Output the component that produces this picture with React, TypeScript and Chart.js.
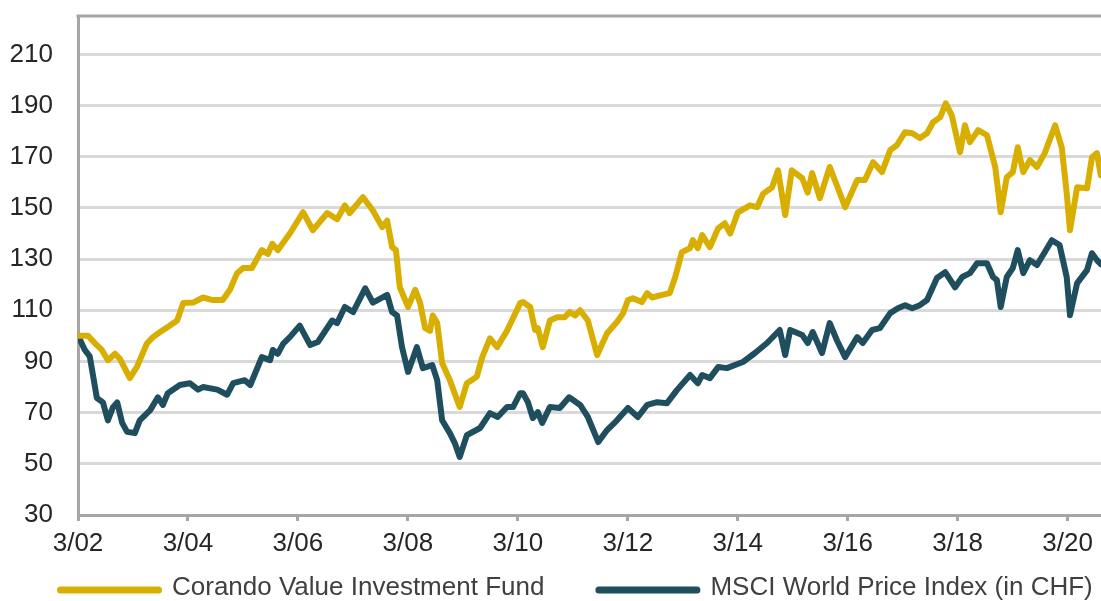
import React, { useEffect, useRef } from "react";
import { Chart, registerables } from "chart.js";

Chart.register(...registerables);

// ---- Data ----
const xTickLabels = ["3/02", "3/04", "3/06", "3/08", "3/10", "3/12", "3/14", "3/16", "3/18", "3/20"];
const yTickValues = [30, 50, 70, 90, 110, 130, 150, 170, 190, 210];

const fundLabel = "Corando Value Investment Fund";
const msciLabel = "MSCI World Price Index (in CHF)";

const fundDates = [
  2002.17, 2002.35, 2002.48, 2002.6, 2002.71, 2002.84, 2002.93, 2003.11, 2003.24, 2003.42,
  2003.53, 2003.66, 2003.8, 2003.97, 2004.08, 2004.26, 2004.44, 2004.62, 2004.8, 2004.93,
  2005.06, 2005.17, 2005.33, 2005.51, 2005.62, 2005.7, 2005.8, 2005.97, 2006.02, 2006.26,
  2006.44, 2006.7, 2006.88, 2007.02, 2007.11, 2007.35, 2007.53, 2007.7, 2007.79, 2007.88,
  2007.95, 2008.02, 2008.17, 2008.3, 2008.39, 2008.48, 2008.57, 2008.62, 2008.7, 2008.79,
  2008.93, 2009.11, 2009.24, 2009.42, 2009.52, 2009.66, 2009.79, 2009.97, 2010.21, 2010.26,
  2010.39, 2010.48, 2010.53, 2010.62, 2010.75, 2010.88, 2011.02, 2011.11, 2011.21, 2011.3,
  2011.44, 2011.61, 2011.79, 2011.97, 2012.08, 2012.17, 2012.26, 2012.42, 2012.52, 2012.61,
  2012.79, 2012.93, 2013.03, 2013.15, 2013.3, 2013.35, 2013.44, 2013.52, 2013.66, 2013.81,
  2013.93, 2014.03, 2014.17, 2014.39, 2014.52, 2014.63, 2014.79, 2014.9, 2015.03, 2015.15,
  2015.34, 2015.44, 2015.52, 2015.66, 2015.84, 2015.99, 2016.12, 2016.34, 2016.48, 2016.63,
  2016.79, 2016.94, 2017.06, 2017.21, 2017.34, 2017.48, 2017.61, 2017.72, 2017.85, 2017.95,
  2018.06, 2018.21, 2018.3, 2018.39, 2018.54, 2018.7, 2018.85, 2018.95, 2019.06, 2019.17,
  2019.26, 2019.36, 2019.48, 2019.61, 2019.75, 2019.94, 2020.06, 2020.15, 2020.21, 2020.34,
  2020.52, 2020.61, 2020.7, 2020.77,
];
const fundValues = [
  100, 100, 97, 94.5, 90.5, 93, 91, 83.5, 88, 97,
  99.5, 101.5, 103.5, 106, 112.8, 113, 115, 114, 114, 118,
  124.5, 126.5, 126.5, 133.5, 132, 136, 133.5, 138.5, 140, 148.3,
  141.3, 148, 145.6, 151, 148, 154.2, 149, 142.5, 145, 134.7,
  133.5, 119, 111.3, 118, 112.8, 103, 102, 108, 105, 89.4,
  82.7, 72.2, 81.5, 84, 91.7, 99, 95.6, 102, 112.8, 113.2,
  111.3, 102.3, 103, 95.6, 106, 107.3, 107.3, 109.3, 108, 110,
  106, 92.5, 101, 105.4, 108.8, 114, 114.7, 113.2, 116.7, 115,
  116, 116.7, 123, 132.7, 134.3, 137.4, 134.3, 139.4, 134.7, 142,
  144, 140, 148.3, 151, 150.3, 155.6, 158, 164.7, 147.2, 164.7,
  161.6, 156, 163.6, 153.8, 166, 157.7, 150.3, 160.9, 160.9, 167.9,
  164, 172.6, 174.5, 179.6, 179.2, 177.3, 179.2, 183.5, 185.5, 190.9,
  186.2, 171.8, 182.3, 175.7, 180.4, 178.4, 166, 148.3, 162, 164,
  173.7, 164, 168.7, 166, 171.4, 182.3, 173.7, 155.8, 141.3, 158.1,
  157.7, 169.8, 171.4, 162.8,
];

const msciDates = [
  2002.17, 2002.29, 2002.38, 2002.51, 2002.62, 2002.71, 2002.8, 2002.88, 2002.97, 2003.06,
  2003.2, 2003.29, 2003.48, 2003.62, 2003.71, 2003.8, 2004.02, 2004.2, 2004.35, 2004.44,
  2004.7, 2004.88, 2004.99, 2005.2, 2005.3, 2005.51, 2005.66, 2005.71, 2005.8, 2005.9,
  2006.02, 2006.2, 2006.39, 2006.53, 2006.79, 2006.88, 2007.02, 2007.17, 2007.39, 2007.53,
  2007.79, 2007.88, 2007.97, 2008.06, 2008.17, 2008.33, 2008.44, 2008.61, 2008.7, 2008.79,
  2008.93, 2009.02, 2009.11, 2009.24, 2009.48, 2009.66, 2009.8, 2009.97, 2010.08, 2010.21,
  2010.26, 2010.35, 2010.44, 2010.53, 2010.61, 2010.75, 2010.93, 2011.1, 2011.3, 2011.44,
  2011.63, 2011.79, 2011.97, 2012.17, 2012.35, 2012.52, 2012.7, 2012.88, 2013.06, 2013.3,
  2013.44, 2013.52, 2013.66, 2013.81, 2013.97, 2014.21, 2014.26, 2014.48, 2014.7, 2014.93,
  2015.03, 2015.12, 2015.34, 2015.44, 2015.53, 2015.7, 2015.84, 2015.97, 2016.12, 2016.34,
  2016.44, 2016.61, 2016.75, 2016.94, 2017.08, 2017.21, 2017.34, 2017.48, 2017.61, 2017.79,
  2017.94, 2018.12, 2018.25, 2018.39, 2018.52, 2018.7, 2018.81, 2018.88, 2018.95, 2019.06,
  2019.17, 2019.26, 2019.36, 2019.48, 2019.61, 2019.75, 2019.88, 2020.02, 2020.15, 2020.21,
  2020.34, 2020.52, 2020.61, 2020.7, 2020.77,
];
const msciValues = [
  100, 94.5, 92, 75.7, 74, 67, 72, 74, 66, 62.5,
  62, 67, 71, 76, 73, 77.6, 80.8, 81.5, 79, 80,
  79, 77, 81.5, 82.7, 80.8, 91.7, 90.5, 94.5, 93, 97,
  99.5, 104, 96.4, 97.6, 106, 105, 111.3, 109.3, 118.6, 113,
  116, 109.3, 108, 95.6, 85.9, 95.6, 87.4, 88.6, 82.7, 67,
  62, 58.1, 52.7, 61.2, 64, 69.8, 68.3, 72.2, 72.2, 77.6,
  77.6, 74.1, 67.9, 70.2, 66, 72.2, 71.8, 76, 73, 68.3,
  58.5, 63.2, 67, 71.8, 68.3, 73, 74.1, 73.7, 78.8, 84.7,
  81.5, 84.7, 83.5, 87.8, 87.4, 89.4, 89.8, 93.3, 97.2, 102.3,
  92.5, 102.3, 100.3, 97.2, 101.5, 93.3, 105, 98.3, 91.7, 99.5,
  97.2, 102.3, 103, 108.9, 110.8, 112, 110.8, 112, 114, 122.6,
  124.9, 119, 123, 124.5, 128.4, 128.4, 123, 121.8, 111.3, 123,
  126.5, 133.5, 124.5, 129.6, 127.7, 132.7, 137.4, 135.5, 123, 108.1,
  120.6, 125.7, 132.3, 129.6, 128,
];

const FUND_COLOR = "#D8AE00";
const MSCI_COLOR = "#1F4E5E";
const AXIS_COLOR = "#A6A6A6";
const GRID_COLOR = "#D9D9D9";
const FONT_FAMILY = "'Liberation Sans', Arial, sans-serif";

const xTickPositions = xTickLabels.map((l) => 2000 + parseInt(l.slice(2), 10) + 2 / 12);
const X_MIN = xTickPositions[0];
const X_MAX = 2020.774;
const Y_MIN = 30;
const Y_MAX = 225;

const framePlugin = {
  id: "topFrame",
  afterDatasetsDraw(chart: any) {
    const { ctx, chartArea } = chart;
    ctx.save();
    ctx.strokeStyle = AXIS_COLOR;
    ctx.lineWidth = 3;
    ctx.beginPath();
    ctx.moveTo(chartArea.left - 1.5, chartArea.top);
    ctx.lineTo(chartArea.right, chartArea.top);
    ctx.stroke();
    ctx.restore();
  },
};

const legendPlugin = {
  id: "lineLegend",
  afterDraw(chart: any) {
    const ctx = chart.ctx;
    ctx.save();
    ctx.font = `26px ${FONT_FAMILY}`;
    ctx.textBaseline = "middle";
    ctx.textAlign = "left";
    let x = 57;
    const y = 590;
    chart.data.datasets.forEach((ds: any) => {
      ctx.strokeStyle = ds.borderColor;
      ctx.lineWidth = 7;
      ctx.lineCap = "round";
      ctx.beginPath();
      ctx.moveTo(x + 3.5, y);
      ctx.lineTo(x + 105 - 3.5, y);
      ctx.stroke();
      ctx.fillStyle = "#404040";
      ctx.fillText(ds.label, x + 115, y - 2);
      x += 115 + ctx.measureText(ds.label).width + 51;
    });
    ctx.restore();
  },
};

export default function App() {
  const canvasRef = useRef<HTMLCanvasElement | null>(null);

  useEffect(() => {
    if (!canvasRef.current) return;
    const chart = new Chart(canvasRef.current, {
      type: "line",
      data: {
        datasets: [
          {
            label: fundLabel,
            data: fundDates.map((d, i) => ({ x: d, y: fundValues[i] })),
            borderColor: FUND_COLOR,
            backgroundColor: FUND_COLOR,
            borderWidth: 6,
            pointRadius: 0,
            tension: 0,
            borderJoinStyle: "round",
            borderCapStyle: "round",
          },
          {
            label: msciLabel,
            data: msciDates.map((d, i) => ({ x: d, y: msciValues[i] })),
            borderColor: MSCI_COLOR,
            backgroundColor: MSCI_COLOR,
            borderWidth: 6,
            pointRadius: 0,
            tension: 0,
            borderJoinStyle: "round",
            borderCapStyle: "round",
          },
        ],
      },
      options: {
        responsive: false,
        animation: false,
        devicePixelRatio: 1,
        layout: { padding: { top: 16, right: 0, bottom: 0, left: 0 } },
        plugins: {
          legend: { display: false },
          tooltip: { enabled: false },
        },
        scales: {
          x: {
            type: "linear",
            min: X_MIN,
            max: X_MAX,
            afterBuildTicks: (scale: any) => {
              scale.ticks = xTickPositions.map((v) => ({ value: v }));
            },
            afterFit: (scale: any) => {
              scale.height = 86;
              scale.paddingLeft = 0;
              scale.paddingRight = 0;
              scale.paddingTop = 0;
              scale.paddingBottom = 0;
            },
            ticks: {
              autoSkip: false,
              maxRotation: 0,
              padding: 7,
              color: "#262626",
              font: { family: FONT_FAMILY, size: 26 },
              callback: (v: any) => {
                const i = xTickPositions.findIndex((p) => Math.abs(p - v) < 1e-6);
                return i >= 0 ? xTickLabels[i] : "";
              },
            },
            grid: {
              drawOnChartArea: false,
              drawTicks: true,
              tickLength: 6,
              tickColor: AXIS_COLOR,
              tickWidth: 3,
            },
            border: { display: true, color: AXIS_COLOR, width: 3 },
          },
          y: {
            type: "linear",
            min: Y_MIN,
            max: Y_MAX,
            afterBuildTicks: (scale: any) => {
              scale.ticks = yTickValues.map((v) => ({ value: v }));
            },
            afterFit: (scale: any) => {
              scale.width = 78;
              scale.paddingTop = 0;
              scale.paddingBottom = 0;
              scale.paddingLeft = 0;
              scale.paddingRight = 0;
            },
            ticks: {
              padding: 25,
              color: "#262626",
              font: { family: FONT_FAMILY, size: 26 },
            },
            grid: {
              color: GRID_COLOR,
              lineWidth: 3,
              drawTicks: false,
            },
            border: { display: true, color: AXIS_COLOR, width: 3 },
          },
        },
      },
      plugins: [framePlugin, legendPlugin],
    });
    return () => chart.destroy();
  }, []);

  return (
    <div style={{ position: "absolute", left: 0, top: 0, width: 1101, height: 601, background: "#fff" }}>
      <canvas ref={canvasRef} width={1101} height={601} style={{ width: 1101, height: 601, display: "block" }} />
    </div>
  );
}
